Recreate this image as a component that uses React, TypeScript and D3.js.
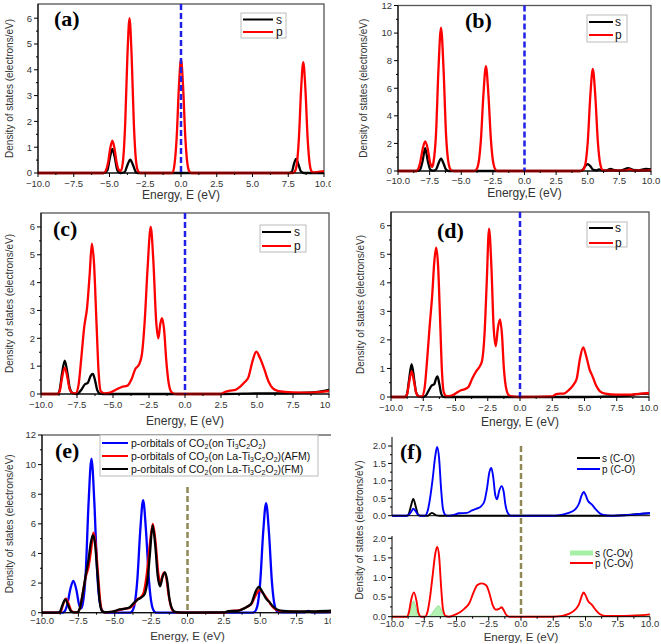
import React from "react";
import * as d3 from "d3";

type Pt = [number, number];

const ENERGY_TICKS = [-10, -7.5, -5, -2.5, 0, 2.5, 5, 7.5, 10];
const ENERGY_MINOR = [-8.75, -6.25, -3.75, -1.25, 1.25, 3.75, 6.25, 8.75];

// (a)
const aS: Pt[] = [[-10,0],[-5.4,0],[-5.15,0.1],[-4.97,0.6],[-4.8,0.93],[-4.63,0.6],[-4.45,0.1],[-4.25,0],[-3.95,0.03],[-3.75,0.3],[-3.55,0.52],[-3.35,0.3],[-3.15,0.03],[-3.0,0],[7.55,0],[7.75,0.05],[7.9,0.35],[8.05,0.55],[8.2,0.35],[8.4,0.05],[8.6,0],[10,0]];
const aP: Pt[] = [[-10,0],[-5.4,0],[-5.25,0.1],[-5.1,0.4],[-4.95,0.95],[-4.8,1.25],[-4.65,0.95],[-4.5,0.4],[-4.35,0.12],[-4.2,0.08],[-4.05,0.5],[-3.9,1.95],[-3.75,4.5],[-3.6,6.0],[-3.45,4.5],[-3.3,1.95],[-3.15,0.5],[-3.0,0.07],[-2.85,0],[-0.6,0],[-0.45,0.35],[-0.3,1.4],[-0.15,3.3],[0,4.4],[0.15,3.3],[0.3,1.4],[0.45,0.35],[0.6,0.05],[0.75,0],[7.8,0],[7.95,0.05],[8.1,0.35],[8.25,1.4],[8.4,3.25],[8.55,4.3],[8.7,3.25],[8.85,1.4],[9.0,0.35],[9.15,0.05],[9.3,0.02],[9.6,0.04],[10,0.07]];

// (b)
const bS: Pt[] = [[-10,0],[-8.5,0],[-8.25,0.1],[-8.05,0.75],[-7.85,1.65],[-7.65,0.75],[-7.45,0.1],[-7.25,0.02],[-7.0,0.1],[-6.8,0.55],[-6.6,0.9],[-6.4,0.55],[-6.2,0.1],[-6.0,0],[4.4,0],[4.6,0.08],[4.8,0.35],[5.0,0.5],[5.2,0.35],[5.45,0.08],[5.7,0.05],[5.9,0.12],[6.2,0.05],[6.5,0.05],[6.8,0.15],[7.1,0.07],[7.6,0.05],[8.2,0.2],[8.6,0.08],[9.0,0.05],[9.6,0.15],[10,0.12]];
const bP: Pt[] = [[-10,0],[-8.6,0],[-8.45,0.08],[-8.25,0.6],[-8.05,1.6],[-7.85,2.15],[-7.65,1.6],[-7.45,0.55],[-7.3,0.3],[-7.2,0.6],[-7.0,2.6],[-6.8,7.4],[-6.6,10.4],[-6.4,7.4],[-6.2,2.6],[-6.0,0.55],[-5.8,0.06],[-5.6,0],[-4.0,0],[-3.85,0.05],[-3.65,0.5],[-3.45,2.2],[-3.25,5.5],[-3.05,7.6],[-2.85,5.5],[-2.65,2.2],[-2.45,0.5],[-2.25,0.05],[-2.1,0],[4.4,0],[4.6,0.05],[4.8,0.45],[5.0,2.1],[5.2,5.4],[5.4,7.4],[5.6,5.4],[5.8,2.1],[6.0,0.45],[6.2,0.05],[6.5,0.02],[8.0,0.02],[8.3,0.12],[8.6,0.02],[10,0.05]];

// (c)
const cS: Pt[] = [[-10,0],[-8.85,0],[-8.7,0.15],[-8.55,0.7],[-8.35,1.2],[-8.15,0.7],[-8.0,0.2],[-7.8,0.03],[-7.5,0],[-7.2,0.15],[-6.95,0.35],[-6.75,0.4],[-6.55,0.65],[-6.4,0.72],[-6.25,0.5],[-6.1,0.15],[-5.9,0.01],[-5.7,0],[2.5,0],[5,0.02],[7.5,0.03],[8.5,0.05],[9.2,0.08],[10,0.15]];
const cP: Pt[] = [[-10,0],[-8.85,0],[-8.7,0.1],[-8.55,0.55],[-8.35,0.95],[-8.15,0.55],[-8.0,0.15],[-7.8,0.03],[-7.6,0.02],[-7.4,0.3],[-7.2,1.3],[-7.0,2.4],[-6.8,3.1],[-6.62,4.3],[-6.47,5.4],[-6.32,4.7],[-6.15,2.6],[-6.0,0.8],[-5.85,0.1],[-5.6,0.02],[-5.2,0.05],[-4.8,0.15],[-4.4,0.25],[-4.0,0.3],[-3.7,0.55],[-3.45,0.9],[-3.2,1.05],[-3.0,1.4],[-2.8,2.6],[-2.6,4.5],[-2.38,6.0],[-2.2,4.8],[-2.0,2.6],[-1.85,2.0],[-1.72,2.5],[-1.6,2.72],[-1.45,2.3],[-1.3,1.2],[-1.1,0.3],[-0.9,0.05],[-0.6,0],[2.5,0],[2.8,0.08],[3.1,0.12],[3.5,0.15],[3.8,0.25],[4.1,0.4],[4.4,0.6],[4.7,1.2],[4.95,1.52],[5.2,1.3],[5.5,0.9],[5.8,0.45],[6.1,0.2],[6.5,0.1],[7.5,0.06],[8.5,0.05],[9.5,0.08],[10,0.1]];

// (d)
const dS: Pt[] = [[-10,0],[-8.9,0],[-8.75,0.12],[-8.6,0.6],[-8.4,1.15],[-8.2,0.6],[-8.05,0.15],[-7.85,0.02],[-7.6,0],[-7.3,0.05],[-7.05,0.25],[-6.85,0.4],[-6.65,0.45],[-6.5,0.65],[-6.4,0.72],[-6.25,0.45],[-6.1,0.1],[-5.9,0],[5,0],[7,0.02],[8.5,0.05],[9,0.1],[10,0.12]];
const dP: Pt[] = [[-10,0],[-8.9,0],[-8.75,0.1],[-8.6,0.5],[-8.4,0.9],[-8.2,0.5],[-8.05,0.15],[-7.85,0.02],[-7.6,0.02],[-7.4,0.3],[-7.2,1.3],[-7.0,2.5],[-6.8,3.6],[-6.65,4.7],[-6.5,5.23],[-6.35,4.6],[-6.2,2.8],[-6.05,0.9],[-5.9,0.15],[-5.7,0.03],[-5.3,0.05],[-5.0,0.12],[-4.65,0.22],[-4.3,0.27],[-4.0,0.35],[-3.7,0.65],[-3.4,0.9],[-3.15,1.05],[-2.95,1.25],[-2.75,2.2],[-2.58,4.0],[-2.4,5.9],[-2.22,4.6],[-2.05,2.5],[-1.88,1.78],[-1.72,2.4],[-1.55,2.72],[-1.4,2.2],[-1.25,1.0],[-1.05,0.25],[-0.85,0.05],[-0.6,0.02],[0,0],[2.5,0.02],[2.8,0.1],[3.1,0.12],[3.4,0.12],[3.8,0.25],[4.1,0.4],[4.4,0.65],[4.65,1.35],[4.9,1.74],[5.15,1.4],[5.4,0.95],[5.6,0.75],[5.9,0.4],[6.2,0.2],[6.6,0.12],[7.5,0.08],[8.5,0.08],[9,0.1],[10,0.14]];

// (f)
const fSCO: Pt[] = [[-10,0],[-8.85,0],[-8.7,0.05],[-8.55,0.25],[-8.35,0.48],[-8.15,0.25],[-8.0,0.05],[-7.8,0],[-7.2,0],[-7.05,0.05],[-6.9,0.08],[-6.75,0.05],[-6.55,0.01],[-6.3,0],[7,0],[8.5,0.03],[9.2,0.05],[10,0.07]];
const fPCO: Pt[] = [[-10,0],[-8.85,0],[-8.7,0.03],[-8.5,0.12],[-8.35,0.2],[-8.15,0.12],[-8.0,0.03],[-7.8,0],[-7.45,0],[-7.25,0.12],[-7.05,0.5],[-6.85,1.05],[-6.65,1.7],[-6.5,1.97],[-6.35,1.65],[-6.2,0.8],[-6.05,0.2],[-5.85,0.02],[-5.6,0],[-5.2,0.02],[-4.8,0.07],[-4.2,0.08],[-3.8,0.15],[-3.45,0.2],[-3.1,0.27],[-2.85,0.4],[-2.65,0.75],[-2.45,1.25],[-2.3,1.37],[-2.15,1.1],[-2.0,0.6],[-1.85,0.47],[-1.7,0.7],[-1.5,0.85],[-1.35,0.7],[-1.2,0.3],[-1.0,0.06],[-0.8,0],[2.6,0],[3.2,0.03],[3.7,0.08],[4.2,0.18],[4.5,0.35],[4.7,0.58],[4.87,0.68],[5.0,0.6],[5.2,0.42],[5.5,0.32],[5.8,0.18],[6.1,0.07],[6.4,0.02],[7,0],[8.5,0.02],[9.2,0.05],[10,0.07]];
const fSCOv: Pt[] = [[-10,0.01],[-8.85,0.01],[-8.65,0.12],[-8.45,0.35],[-8.35,0.4],[-8.2,0.3],[-8.0,0.08],[-7.8,0.01],[-7.2,0.01],[-6.9,0.08],[-6.6,0.22],[-6.4,0.28],[-6.2,0.2],[-6.0,0.05],[-5.8,0.01],[7,0.01],[8.5,0.03],[9.2,0.05],[10,0.06]];
const fPCOv: Pt[] = [[-10,0],[-8.85,0],[-8.7,0.1],[-8.5,0.45],[-8.3,0.62],[-8.1,0.4],[-7.95,0.1],[-7.75,0],[-7.45,0],[-7.25,0.12],[-7.05,0.5],[-6.85,1.05],[-6.65,1.6],[-6.5,1.78],[-6.35,1.55],[-6.2,0.8],[-6.05,0.2],[-5.85,0.02],[-5.6,0],[-5.2,0.04],[-4.8,0.1],[-4.4,0.2],[-4.0,0.35],[-3.7,0.6],[-3.4,0.8],[-3.05,0.85],[-2.7,0.8],[-2.45,0.6],[-2.2,0.3],[-1.95,0.18],[-1.7,0.2],[-1.5,0.24],[-1.35,0.17],[-1.15,0.05],[-0.9,0],[2.5,0],[3.2,0.02],[3.7,0.07],[4.2,0.18],[4.5,0.32],[4.7,0.52],[4.85,0.62],[5.0,0.55],[5.2,0.4],[5.5,0.3],[5.8,0.17],[6.1,0.07],[6.5,0.02],[8,0.02],[9,0.03],[10,0.06]];

const Y_TITLE = "Density of states (electrons/eV)";
const LEGEND_SP = ["s", "p"];
const LEGEND_E: [string, boolean][][] = [
  [["p-orbitals of CO", false], ["2", true], ["(on Ti", false], ["3", true], ["C", false], ["2", true], ["O", false], ["2", true], [")", false]],
  [["p-orbitals of CO", false], ["2", true], ["(on La-Ti", false], ["3", true], ["C", false], ["2", true], ["O", false], ["2", true], [")(AFM)", false]],
  [["p-orbitals of CO", false], ["2", true], ["(on La-Ti", false], ["3", true], ["C", false], ["2", true], ["O", false], ["2", true], [")(FM)", false]],
];
const LEGEND_F_TOP = ["s (C-O)", "p (C-O)"];
const LEGEND_F_BOT = ["s (C-Ov)", "p (C-Ov)"];

const SANS = "'Liberation Sans', Arial, sans-serif";
const SERIF = "'Liberation Serif', 'Times New Roman', serif";
const TICK_COLOR = "#333";

type Series = { data: Pt[]; color: string; width?: number; area?: string };

function fmt1(v: number) {
  return d3.format(".1f")(v);
}

function XAxis({ x, yPix, labels, labelY }: { x: d3.ScaleLinear<number, number>; yPix: number; labels: boolean; labelY: number }) {
  const [r0, r1] = x.range();
  return (
    <g>
      <line x1={r0} x2={r1} y1={yPix} y2={yPix} stroke="#000" strokeWidth={1} />
      {ENERGY_TICKS.map((t) => (
        <line key={"M" + t} x1={x(t)} x2={x(t)} y1={yPix} y2={yPix + 4} stroke="#000" />
      ))}
      {ENERGY_MINOR.map((t) => (
        <line key={"m" + t} x1={x(t)} x2={x(t)} y1={yPix} y2={yPix + 2} stroke="#000" />
      ))}
      {labels &&
        ENERGY_TICKS.map((t) => (
          <text key={"l" + t} x={x(t)} y={labelY} textAnchor="middle" fontSize={9.5} fontFamily={SANS} fill={TICK_COLOR}>
            {fmt1(t)}
          </text>
        ))}
    </g>
  );
}

function YAxis({ y, xPix, ticks, minor, format, axisTop }: { y: d3.ScaleLinear<number, number>; xPix: number; ticks: number[]; minor: number[]; format: (v: number) => string; axisTop?: number }) {
  const [b, t] = y.range();
  return (
    <g>
      <line x1={xPix} x2={xPix} y1={axisTop ?? t} y2={b} stroke="#000" strokeWidth={1} />
      {ticks.map((v) => (
        <g key={"M" + v}>
          <line x1={xPix - 4} x2={xPix} y1={y(v)} y2={y(v)} stroke="#000" />
          <text x={xPix - 6} y={y(v)} dy="0.35em" textAnchor="end" fontSize={9.5} fontFamily={SANS} fill={TICK_COLOR}>
            {format(v)}
          </text>
        </g>
      ))}
      {minor.map((v) => (
        <line key={"m" + v} x1={xPix - 2} x2={xPix} y1={y(v)} y2={y(v)} stroke="#000" />
      ))}
    </g>
  );
}

function Curves({ x, y, series }: { x: d3.ScaleLinear<number, number>; y: d3.ScaleLinear<number, number>; series: Series[] }) {
  const ln = d3.line<Pt>().x((d) => x(d[0])).y((d) => y(d[1])).curve(d3.curveMonotoneX);
  const ar = d3.area<Pt>().x((d) => x(d[0])).y0(y(0)).y1((d) => y(d[1])).curve(d3.curveMonotoneX);
  return (
    <g>
      {series.map((s, i) =>
        s.area ? (
          <g key={i}>
            <path d={ar(s.data) || ""} fill={s.area} fillOpacity={0.85} stroke="none" />
            <path d={ln(s.data) || ""} fill="none" stroke={s.color} strokeWidth={s.width ?? 1} />
          </g>
        ) : (
          <path key={i} d={ln(s.data) || ""} fill="none" stroke={s.color} strokeWidth={s.width ?? 2.3} strokeLinejoin="round" />
        )
      )}
    </g>
  );
}

type PanelProps = {
  left: number; right: number; top: number; bottom: number; yMax: number;
  yTicks: number[]; yMinor: number[];
  series: Series[];
  dash: { color: string; from: number };
  legend?: React.ReactNode;
  label: { text: string; x: number; y: number };
  xTitle: { text: string; y: number; size?: number };
  xLabelY: number;
  yTitleX: number;
  clipId?: string;
};

function Panel(p: PanelProps) {
  const x = d3.scaleLinear().domain([-10, 10]).range([p.left, p.right]);
  const y = d3.scaleLinear().domain([0, p.yMax]).range([p.bottom, p.top]);
  const cy = (p.top + p.bottom) / 2;
  return (
    <g clipPath={p.clipId ? `url(#${p.clipId})` : undefined}>
      <rect x={p.left} y={p.top} width={p.right - p.left} height={p.bottom - p.top} fill="none" stroke="#555" strokeWidth={1.3} />
      <Curves x={x} y={y} series={p.series} />
      <line x1={x(0)} x2={x(0)} y1={p.dash.from} y2={p.bottom} stroke={p.dash.color} strokeWidth={2.5} strokeDasharray="6,3" />
      <XAxis x={x} yPix={p.bottom} labels={true} labelY={p.xLabelY} />
      <YAxis y={y} xPix={p.left} ticks={p.yTicks} minor={p.yMinor} format={(v) => String(v)} />
      <text x={p.label.x} y={p.label.y} fontFamily={SERIF} fontWeight="bold" fontSize={22} fill="#000">
        {p.label.text}
      </text>
      <text x={(p.left + p.right) / 2} y={p.xTitle.y} textAnchor="middle" fontFamily={SANS} fontSize={p.xTitle.size ?? 12} fill={TICK_COLOR}>
        {p.xTitle.text}
      </text>
      <text transform={`translate(${p.yTitleX},${cy}) rotate(-90)`} textAnchor="middle" fontFamily={SANS} fontSize={10} fill={TICK_COLOR}>
        {Y_TITLE}
      </text>
      {p.legend}
    </g>
  );
}

function SPLegend({ x, y, w, h, y1, y2, lx1, lx2, tx }: { x: number; y: number; w: number; h: number; y1: number; y2: number; lx1: number; lx2: number; tx: number }) {
  const rows: [string, string, number][] = [
    [LEGEND_SP[0], "#000", y1],
    [LEGEND_SP[1], "#ff0000", y2],
  ];
  return (
    <g>
      <rect x={x} y={y} width={w} height={h} fill="#fff" stroke="#bbb" strokeWidth={1} />
      {rows.map(([t, c, yy]) => (
        <g key={t}>
          <line x1={lx1} x2={lx2} y1={yy} y2={yy} stroke={c} strokeWidth={2} />
          <text x={tx} y={yy} dy="0.35em" fontFamily={SANS} fontSize={12} fill="#111">
            {t}
          </text>
        </g>
      ))}
    </g>
  );
}

function ELegend() {
  const colors = ["#0000ff", "#ff0000", "#000"];
  const ys = [443, 456, 469];
  return (
    <g>
      <rect x={100} y={435} width={218} height={41} fill="#fff" stroke="#bbb" strokeWidth={1} />
      {LEGEND_E.map((segs, i) => (
        <g key={i}>
          <line x1={102} x2={128} y1={ys[i]} y2={ys[i]} stroke={colors[i]} strokeWidth={2} />
          <text x={131} y={ys[i] + 3.5} fontFamily={SANS} fontSize={10.5} fill="#111">
            {segs.map(([t, sub], j) => {
              const prevSub = j > 0 && segs[j - 1][1];
              const dy = sub ? 2 : prevSub ? -2 : 0;
              return (
                <tspan key={j} dy={dy} fontSize={sub ? 7 : 10.5}>
                  {t}
                </tspan>
              );
            })}
          </text>
        </g>
      ))}
    </g>
  );
}

function PanelF() {
  const left = 392, right = 650;
  const x = d3.scaleLinear().domain([-10, 10]).range([left, right]);
  const yT = d3.scaleLinear().domain([0, 2]).range([515.7, 446]);
  const yB = d3.scaleLinear().domain([0, 2]).range([616.7, 538.3]);
  const ticks = [0, 0.5, 1, 1.5, 2];
  const minor = [0.25, 0.75, 1.25, 1.75];
  const olive = "#8f8a55";
  return (
    <g>
      <Curves x={x} y={yT} series={[{ data: fSCO, color: "#000", width: 1.9 }, { data: fPCO, color: "#0000ff", width: 1.9 }]} />
      <Curves x={x} y={yB} series={[{ data: fSCOv, color: "#7fd87f", width: 0.8, area: "#a6f0a6" }, { data: fPCOv, color: "#ff0000", width: 1.9 }]} />
      <line x1={x(0)} x2={x(0)} y1={446} y2={616.7} stroke={olive} strokeWidth={2.5} strokeDasharray="6,3" />
      <line x1={left} x2={right} y1={515.7} y2={515.7} stroke="#000" strokeWidth={1} />
      <XAxis x={x} yPix={616.7} labels={true} labelY={627} />
      <YAxis y={yT} xPix={left} ticks={ticks} minor={minor} format={fmt1} axisTop={437} />
      <YAxis y={yB} xPix={left} ticks={ticks} minor={minor} format={fmt1} axisTop={536} />
      <text x={400} y={459} fontFamily={SERIF} fontWeight="bold" fontSize={22} fill="#000">(f)</text>
      <text x={(left + right) / 2} y={641} textAnchor="middle" fontFamily={SANS} fontSize={11.5} fill={TICK_COLOR}>Energy, E (eV)</text>
      <text transform={`translate(363,530) rotate(-90)`} textAnchor="middle" fontFamily={SANS} fontSize={10} fill={TICK_COLOR}>{Y_TITLE}</text>
      <line x1={577} x2={600} y1={458} y2={458} stroke="#000" strokeWidth={2} />
      <text x={602} y={458} dy="0.35em" fontFamily={SANS} fontSize={10} fill="#111">{LEGEND_F_TOP[0]}</text>
      <line x1={577} x2={600} y1={469} y2={469} stroke="#0000ff" strokeWidth={2} />
      <text x={602} y={469} dy="0.35em" fontFamily={SANS} fontSize={10} fill="#111">{LEGEND_F_TOP[1]}</text>
      <line x1={570} x2={593} y1={553} y2={553} stroke="#a6f0a6" strokeWidth={5} />
      <text x={595} y={553} dy="0.35em" fontFamily={SANS} fontSize={10} fill="#111">{LEGEND_F_BOT[0]}</text>
      <line x1={570} x2={593} y1={563} y2={563} stroke="#ff0000" strokeWidth={2} />
      <text x={595} y={563} dy="0.35em" fontFamily={SANS} fontSize={10} fill="#111">{LEGEND_F_BOT[1]}</text>
    </g>
  );
}

const BLUE_DASH = "#1f1fe6";
const TICKS_6 = [0, 1, 2, 3, 4, 5, 6];
const MINOR_6 = [0.5, 1.5, 2.5, 3.5, 4.5, 5.5];
const TICKS_12 = [0, 2, 4, 6, 8, 10, 12];
const MINOR_12 = [1, 3, 5, 7, 9, 11];

export default function App() {
  return (
    <svg width={661} height={644} style={{ position: "absolute", left: 0, top: 0, background: "#fff" }}>
      <defs>
        <clipPath id="clipL">
          <rect x={0} y={0} width={331} height={644} />
        </clipPath>
      </defs>
      <rect x={0} y={0} width={661} height={644} fill="#fff" />
      <Panel
        left={38} right={324} top={4} bottom={173} yMax={6.55}
        yTicks={TICKS_6} yMinor={MINOR_6}
        series={[{ data: aS, color: "#000" }, { data: aP, color: "#ff0000" }]}
        dash={{ color: BLUE_DASH, from: 4 }}
        legend={<SPLegend x={241} y={13} w={45} h={25} y1={19.5} y2={32} lx1={243} lx2={273} tx={276} />}
        label={{ text: "(a)", x: 54, y: 26 }}
        xTitle={{ text: "Energy, E (eV)", y: 199 }}
        xLabelY={187}
        yTitleX={13}
        clipId="clipL"
      />
      <Panel
        left={398} right={651} top={5.5} bottom={171} yMax={12}
        yTicks={TICKS_12} yMinor={MINOR_12}
        series={[{ data: bS, color: "#000" }, { data: bP, color: "#ff0000" }]}
        dash={{ color: BLUE_DASH, from: 5.5 }}
        legend={<SPLegend x={587} y={15} w={40} h={27} y1={22} y2={35} lx1={589} lx2={613} tx={615} />}
        label={{ text: "(b)", x: 465, y: 28 }}
        xTitle={{ text: "Energy,E (eV)", y: 197 }}
        xLabelY={184}
        yTitleX={367}
      />
      <Panel
        left={41} right={329} top={213} bottom={394} yMax={6.5}
        yTicks={TICKS_6} yMinor={MINOR_6}
        series={[{ data: cS, color: "#000" }, { data: cP, color: "#ff0000" }]}
        dash={{ color: BLUE_DASH, from: 213 }}
        legend={<SPLegend x={260} y={225} w={46} h={27} y1={232} y2={246} lx1={262} lx2={291} tx={294} />}
        label={{ text: "(c)", x: 53, y: 236 }}
        xTitle={{ text: "Energy, E (eV)", y: 425 }}
        xLabelY={408}
        yTitleX={13}
        clipId="clipL"
      />
      <Panel
        left={391} right={649} top={212} bottom={397} yMax={6.48}
        yTicks={TICKS_6} yMinor={MINOR_6}
        series={[{ data: dS, color: "#000" }, { data: dP, color: "#ff0000" }]}
        dash={{ color: BLUE_DASH, from: 212 }}
        legend={<SPLegend x={587} y={222} w={40} h={25} y1={228} y2={243} lx1={589} lx2={613} tx={615} />}
        label={{ text: "(d)", x: 437, y: 238 }}
        xTitle={{ text: "Energy, E (eV)", y: 426 }}
        xLabelY={411}
        yTitleX={364}
      />
      <Panel
        left={42} right={333} top={435} bottom={612.7} yMax={12}
        yTicks={TICKS_12} yMinor={MINOR_12}
        series={[{ data: bP, color: "#0000ff" }, { data: cP, color: "#ff0000" }, { data: dP, color: "#000" }]}
        dash={{ color: "#8f8a55", from: 487 }}
        legend={<ELegend />}
        label={{ text: "(e)", x: 55, y: 458 }}
        xTitle={{ text: "Energy, E (eV)", y: 640, size: 11.5 }}
        xLabelY={624}
        yTitleX={13}
        clipId="clipL"
      />
      <PanelF />
    </svg>
  );
}
